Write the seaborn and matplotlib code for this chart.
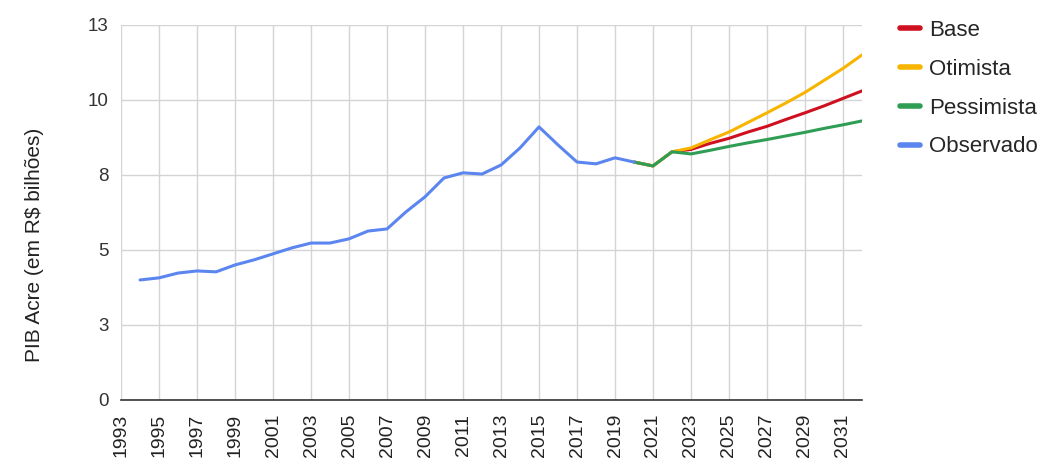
import numpy as np
import pandas as pd
import matplotlib
matplotlib.use("Agg")
import matplotlib.pyplot as plt
import seaborn as sns

# observed series (R$ bilhões)
obs_years = list(range(1994, 2021))
obs_values = [4.00, 4.07, 4.23, 4.30, 4.27, 4.50, 4.67, 4.87, 5.07, 5.23,
              5.23, 5.37, 5.63, 5.70, 6.27, 6.77, 7.40, 7.57, 7.53, 7.83,
              8.40, 9.10, 8.50, 7.93, 7.87, 8.07, 7.93]

# scenarios
proj_years = list(range(2020, 2033))
base_values = [7.93, 7.80, 8.27, 8.35, 8.55, 8.72, 8.93, 9.12, 9.35, 9.57,
               9.80, 10.05, 10.30]
otimista_values = [7.93, 7.80, 8.27, 8.40, 8.67, 8.93, 9.25, 9.57, 9.90,
                   10.25, 10.65, 11.05, 11.50]
pessimista_values = [7.93, 7.80, 8.27, 8.20, 8.32, 8.45, 8.57, 8.68, 8.80,
                     8.92, 9.05, 9.17, 9.30]

series_order = ["Base", "Otimista", "Pessimista", "Observado"]
colors = ["#cf1020", "#f7b500", "#2f9e55", "#5b85ef"]

y_ticks = [0, 2.5, 5, 7.5, 10, 12.5]
y_tick_labels = ["0", "3", "5", "8", "10", "13"]
x_ticks = list(range(1993, 2032, 2))

df = pd.concat([
    pd.DataFrame({"ano": proj_years, "pib": base_values, "serie": "Base"}),
    pd.DataFrame({"ano": proj_years, "pib": otimista_values, "serie": "Otimista"}),
    pd.DataFrame({"ano": proj_years, "pib": pessimista_values, "serie": "Pessimista"}),
    pd.DataFrame({"ano": obs_years, "pib": obs_values, "serie": "Observado"}),
])

sns.set_style("white")
plt.rcParams["font.family"] = ["Liberation Sans", "DejaVu Sans"]

fig = plt.figure(figsize=(10.48, 4.70), dpi=100)
ax = fig.add_axes([0.1155, 0.149, 0.707, 0.798])

sns.lineplot(data=df, x="ano", y="pib", hue="serie", hue_order=series_order,
             palette=colors, linewidth=2.2, ax=ax)

ax.set_xlim(1993, 2032)
ax.set_ylim(0, 12.5)
ax.set_xticks(x_ticks)
ax.set_xticklabels([str(y) for y in x_ticks], rotation=90, fontsize=14, color="#222222")
ax.set_yticks(y_ticks)
ax.set_yticklabels(y_tick_labels, fontsize=13.5, color="#333333")
ax.grid(True, color="#d4d4d4", linewidth=1)
ax.set_axisbelow(True)

for s in ["top", "right", "left"]:
    ax.spines[s].set_visible(False)
ax.spines["bottom"].set_color("#333333")
ax.spines["bottom"].set_linewidth(1.2)
ax.tick_params(axis="x", direction="inout", length=12, width=1, color="#333333", pad=4)
ax.tick_params(axis="y", length=0, pad=9)

ax.set_xlabel("")
ax.set_ylabel("PIB Acre (em R$ bilhões)", fontsize=15, color="#222222")
ax.yaxis.set_label_coords(-0.104, 0.413)

ax.legend(loc="upper left", bbox_to_anchor=(1.024, 1.066), frameon=False,
          fontsize=16, handlelength=0.9, handletextpad=0.4, labelspacing=0.8)
for line in ax.get_legend().get_lines():
    line.set_linewidth(4)

fig.savefig("out.png", dpi=100)
